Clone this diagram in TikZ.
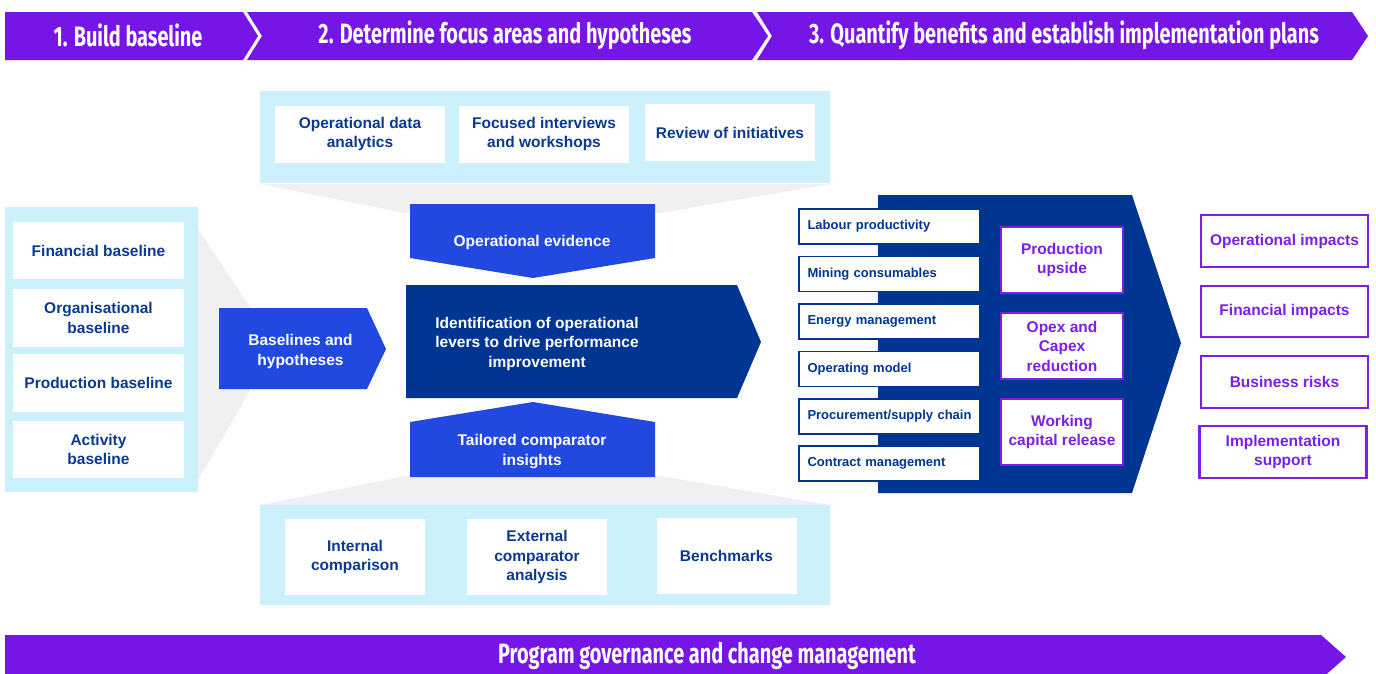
\documentclass[tikz,border=0pt]{standalone}
\usepackage{fontspec}
\setmainfont{Liberation Sans}
\newfontfamily\bannerfont{Fira Sans}[FakeStretch=0.71]
\definecolor{banner}{HTML}{7515E6}
\definecolor{navy}{HTML}{003591}
\definecolor{midblue}{HTML}{2149E0}
\definecolor{cyanbg}{HTML}{CCF0FC}
\definecolor{funnel}{HTML}{F0F0F0}
\definecolor{boxtext}{HTML}{0B3A8C}
\definecolor{lilac}{HTML}{7B1FE6}

\begin{document}
\begin{tikzpicture}[x=1pt,y=-1pt,
    stage/.style={text=white,inner sep=0pt,font=\bannerfont\bfseries\fontsize{28}{30}\selectfont},
    wbox/.style={fill=white,inner sep=0pt,align=center,text=boxtext,font=\fontsize{15.5}{19.5}\selectfont\bfseries},
    intext/.style={text=white,inner sep=0pt,align=center,yshift=-1.5pt,font=\fontsize{15.5}{19.5}\selectfont\bfseries},
    lever/.style={draw=navy,line width=1.4pt,fill=white,minimum width=181pt,minimum height=35pt,inner sep=0pt,text width=164pt,align=left,text=navy,font=\fontsize{13}{16}\selectfont\bfseries},
    gain/.style={draw=lilac,line width=2.5pt,fill=white,minimum width=122pt,minimum height=66pt,inner sep=0pt,align=center,text=lilac,font=\fontsize{15.5}{19.5}\selectfont\bfseries},
    impact/.style={draw=lilac,line width=2.5pt,fill=white,minimum width=167pt,minimum height=52pt,inner sep=0pt,align=center,text=lilac,font=\fontsize{15.5}{19.5}\selectfont\bfseries}]
    \useasboundingbox (0,0) rectangle (1376,673);
    \clip (0,0) rectangle (1376,673);
    \fill[white] (0,0) rectangle (1376,673);

    \fill[banner] (5,12) -- (243,12) -- (258,36) -- (243,60) -- (5,60) -- cycle;
    \fill[banner] (247,12) -- (752,12) -- (768,36) -- (752,60) -- (247,60) -- (262,36) -- cycle;
    \fill[banner] (757,12) -- (1352,12) -- (1368,36) -- (1352,60) -- (757,60) -- (772,36) -- cycle;
    \fill[banner] (5,635) -- (1321,635) -- (1346,657) -- (1321,679) -- (5,679) -- cycle;

    \node[stage] at (128,35) (s1) {1. Build baseline};
    \node[stage] at (505,35) (s2) {2. Determine focus areas and hypotheses};
    \node[stage] at (1064,35) (s3) {3. Quantify benefits and establish implementation plans};
    \node[stage] at (707,656) (gov) {Program governance and change management};

    \fill[funnel] (260,184) -- (830,184) -- (660,213) -- (405,213) -- cycle;
    \fill[funnel] (405,476) -- (660,476) -- (830,505) -- (260,505) -- cycle;
    \fill[funnel] (198,229) -- (250,307) -- (250,391) -- (198,480) -- cycle;
    \fill[cyanbg] (260,91) rectangle (830,183);
    \fill[cyanbg] (260,505) rectangle (830,605);
    \fill[cyanbg] (5,207) rectangle (198,492);

    \node[wbox,minimum width=170pt,minimum height=57pt] at (360,134) (oda) {Operational data\\analytics};
    \node[wbox,minimum width=170pt,minimum height=57pt] at (544,134) (fiw) {Focused interviews\\and workshops};
    \node[wbox,minimum width=170pt,minimum height=57pt] at (730,132.5) (roi) {Review of initiatives};

    \node[wbox,minimum width=140pt,minimum height=76pt] at (355,557) (intc) {Internal\\comparison};
    \node[wbox,minimum width=140pt,minimum height=76pt] at (537,557) (extc) {External\\comparator\\analysis};
    \node[wbox,minimum width=140pt,minimum height=76pt] at (726.5,555.5) (bench) {Benchmarks};

    \node[wbox,minimum width=171pt,minimum height=57pt] at (98.5,250.5) (fin) {Financial baseline};
    \node[wbox,minimum width=171pt,minimum height=58pt] at (98.5,318) (org) {Organisational\\baseline};
    \node[wbox,minimum width=171pt,minimum height=58pt] at (98.5,383) (prod) {Production baseline};
    \node[wbox,minimum width=171pt,minimum height=57pt] at (98.5,449.5) (act) {Activity\\baseline};

    \fill[midblue] (410,204) -- (655,204) -- (655,258) -- (533,278) -- (410,258) -- cycle;
    \fill[midblue] (410,422) -- (533,402) -- (655,422) -- (655,477) -- (410,477) -- cycle;
    \fill[midblue] (219,308) -- (367,308) -- (386,349) -- (367,389) -- (219,389) -- cycle;
    \fill[navy] (406,285) -- (737,285) -- (761,342) -- (737,398) -- (406,398) -- cycle;
    \fill[navy] (878,195) -- (1132,195) -- (1181,343) -- (1132,493) -- (878,493) -- cycle;

    \node[intext] at (532,241) (opev) {Operational evidence};
    \node[intext] at (537,342) (levers) {Identification of operational\\levers to drive performance\\improvement};
    \node[intext] at (532,450) (tci) {Tailored comparator\\insights};
    \node[intext] at (300.5,350) (bh) {Baselines and\\hypotheses};

    \node[lever] at (889.5,226.5) (lab) {Labour productivity};
    \node[lever] at (889.5,274) (mine) {Mining consumables};
    \node[lever] at (889.5,321.5) (energy) {Energy management};
    \node[lever] at (889.5,369) (opm) {Operating model};
    \node[lever] at (889.5,416.5) (proc) {Procurement/supply chain};
    \node[lever] at (889.5,463.5) (contr) {Contract management};

    \node[gain] at (1062,260) (up) {Production\\upside};
    \node[gain] at (1062,346) (opex) {Opex and\\Capex\\reduction};
    \node[gain] at (1062,432) (wcr) {Working\\capital release};

    \node[impact] at (1284.5,241) (opi) {Operational impacts};
    \node[impact,minimum height=51pt] at (1284.5,311.5) (fini) {Financial impacts};
    \node[impact] at (1284.5,382) (risk) {Business risks};
    \node[impact] at (1283,452) (impl) {Implementation\\support};
  \end{tikzpicture}
\end{document}
